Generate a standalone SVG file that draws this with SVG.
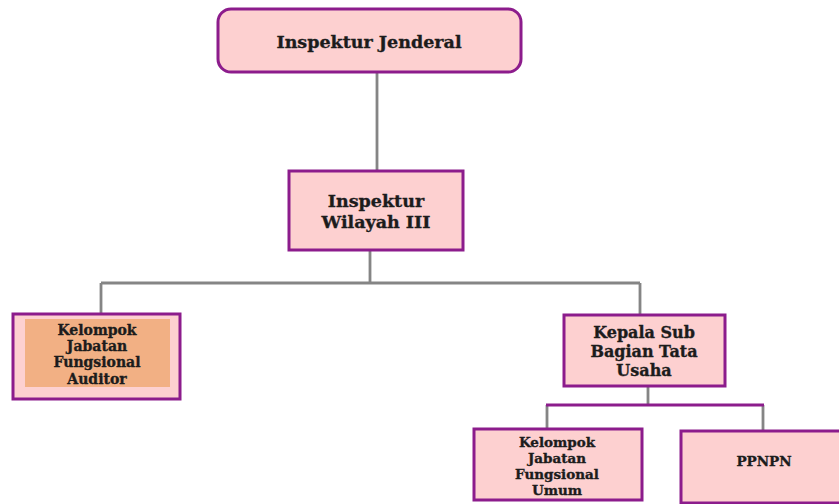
<svg xmlns="http://www.w3.org/2000/svg" width="839" height="504" viewBox="0 0 839 504">
<style>
.box{fill:#fdd0d0;stroke:#8c1c8c;stroke-width:3}
.conn{fill:none;stroke:#858585;stroke-width:2.8}
.pc{fill:none;stroke:#8c1c8c;stroke-width:3}
text{font-family:"DejaVu Serif","Liberation Serif",serif;font-weight:bold;fill:#1c1c1c;stroke:#1c1c1c;stroke-width:0.35;text-anchor:middle}
.t17{font-size:17.5px}
.t16{font-size:16px}
.t14{font-size:14px}
.t13{font-size:13.5px}
</style>
<rect width="839" height="504" fill="#ffffff"/>
<g id="connectors">
<path class="conn" d="M377 72 V170"/>
<path class="conn" d="M370 250 V283 M101 283 H640 M101 283 V313 M640 283 V314"/>
<path class="conn" d="M648 386 V405 M547 405 V429 M763 405 V431"/>
<path class="pc" d="M546 405 H764"/>
</g>
<g id="inspektur-jenderal">
<rect class="box" x="218" y="9" width="303" height="63" rx="13"/>
<text class="t17" x="369" y="48">Inspektur Jenderal</text>
</g>
<g id="inspektur-wilayah">
<rect class="box" x="289" y="171" width="174" height="79"/>
<text class="t17" x="376" y="207">Inspektur</text>
<text class="t17" x="376" y="228">Wilayah III</text>
</g>
<g id="kjf-auditor">
<rect class="box" x="13" y="314" width="167" height="85"/>
<rect x="25" y="319" width="145" height="68" fill="#f2b084"/>
<text class="t14" x="97" y="335">Kelompok</text>
<text class="t14" x="97" y="351">Jabatan</text>
<text class="t14" x="97" y="367">Fungsional</text>
<text class="t14" x="97" y="384">Auditor</text>
</g>
<g id="kepala-sub">
<rect class="box" x="564" y="315" width="161" height="71"/>
<text class="t16" x="644" y="338">Kepala Sub</text>
<text class="t16" x="644" y="357">Bagian Tata</text>
<text class="t16" x="644" y="376">Usaha</text>
</g>
<g id="kjf-umum">
<rect class="box" x="474" y="429" width="168" height="71"/>
<text class="t13" x="557" y="447">Kelompok</text>
<text class="t13" x="557" y="463">Jabatan</text>
<text class="t13" x="557" y="479">Fungsional</text>
<text class="t13" x="557" y="495">Umum</text>
</g>
<g id="ppnpn">
<rect class="box" x="681" y="431" width="170" height="72"/>
<text class="t13" x="764" y="466">PPNPN</text>
</g>
</svg>
